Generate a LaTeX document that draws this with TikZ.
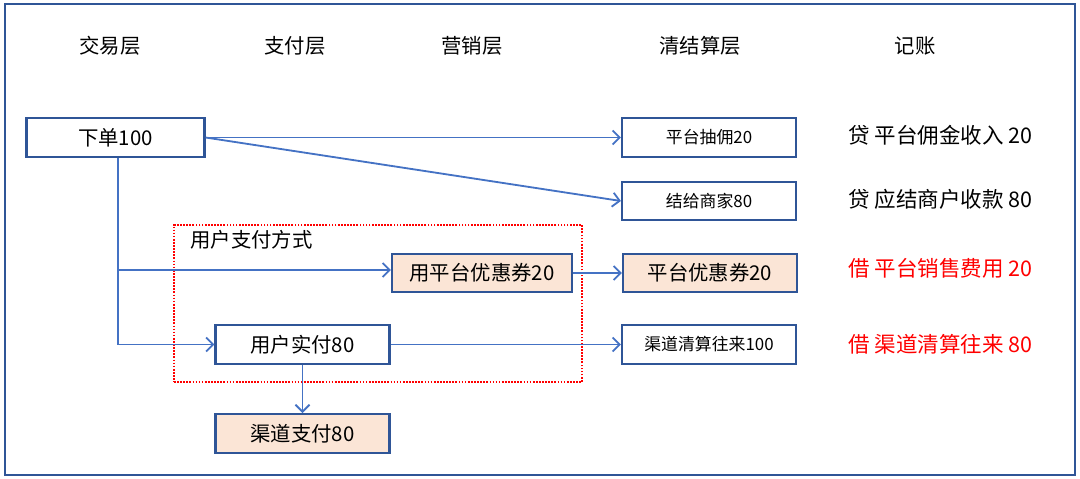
\documentclass[tikz,border=0pt]{standalone}
\usepackage{fontspec}
\setmainfont{Noto Sans CJK SC}
\usetikzlibrary{arrows.meta}
\usetikzlibrary{positioning}
\definecolor{lineblue}{HTML}{4472C4}
\definecolor{boxblue}{HTML}{2F5597}
\definecolor{peach}{HTML}{FBE5D6}
\definecolor{acred}{HTML}{FF0000}
\begin{document}
\begin{tikzpicture}[x=0.025cm, y=-0.025cm,
	every node/.style={font=\fontsize{14.5pt}{16pt}\selectfont, inner sep=0pt},
	box/.style={draw=boxblue, line width=1.5pt, fill=white, minimum width=4.35cm, minimum height=0.97cm},
	bigbox/.style={box, minimum width=4.5cm},
	small/.style={font=\fontsize{12pt}{14pt}\selectfont},
	hot/.style={fill=peach},
	arr/.style={draw=lineblue, line width=1.3pt, -{Straight Barb[length=5pt, width=10pt]}},
	group/.style={draw=acred, line width=1.2pt, densely dotted, minimum width=10.2cm, minimum height=3.92cm},
	entry/.style={anchor=west, font=\fontsize{15.3pt}{17pt}\selectfont}]
			\useasboundingbox (0,0) rectangle (1080,479);
			\draw[boxblue, line width=1.7pt] (5,4) rectangle (1075,475);
			
			\node (hTrade) at (110,46) {交易层};
			\node (hPay) at (295,46) {支付层};
			\node (hMkt) at (472,46) {营销层};
			\node (hClear) at (700,46) {清结算层};
			\node (hBook) at (915,46) {记账};
			
			\node[group] (paybox) at (378,303.5) {};
			\node[anchor=north west] (paylabel) at (190,230) {用户支付方式};
			
			\node[box, minimum width=4.45cm] (order) at (115.5,137.5) {下单100};
			\node[box, small] (comm) at (709,137.5) {平台抽佣20};
			\node[box, small] (settle) at (709,201) {结给商家80};
			\node[bigbox, hot] (useCoupon) at (482,273) {用平台优惠券20};
			\node[box, hot] (coupon) at (710,273) {平台优惠券20};
			\node[box] (actual) at (302.5,344.5) {用户实付80};
			\node[box, small] (channel) at (709,344.5) {渠道清算往来100};
			\node[box, hot] (chanPay) at (302.5,433.5) {渠道支付80};
			
			\node[entry] (bk1) at (848,135) {贷 平台佣金收入 20};
			\node[entry] (bk2) at (848,199) {贷 应结商户收款 80};
			\node[entry, acred] (bk3) at (848,268) {借 平台销售费用 20};
			\node[entry, acred] (bk4) at (848,344) {借 渠道清算往来 80};
			
			\draw[arr] (order.east) -- (comm.west);
			\draw[arr] (order.east) -- (settle.west);
			\draw[arr] (order.south -| 118,0) |- (actual.west);
			\draw[arr] (118,270) -- (useCoupon.west |- 0,270);
			\draw[arr] (useCoupon.east) -- (coupon.west);
			\draw[arr] (actual.east) -- (channel.west);
			\draw[arr] (actual.south) -- (chanPay.north);
		\end{tikzpicture}
\end{document}
